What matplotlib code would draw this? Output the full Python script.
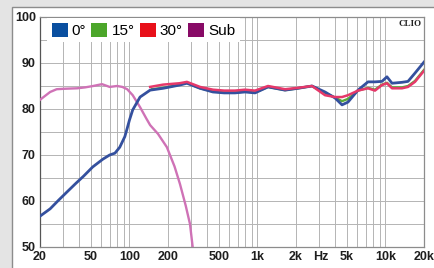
import numpy as np
import matplotlib
matplotlib.use('Agg')
from matplotlib import pyplot as plt
from matplotlib.patches import Patch, Rectangle

# frequenze (Hz) e livelli (dB)
f_sub = [20, 24, 27, 31, 39, 45, 52, 61, 70, 80, 88, 96, 106, 121, 135, 145, 155, 167,
         196, 225, 248, 275, 297, 313]
db_sub = [82, 83.7, 84.3, 84.4, 84.5, 84.7, 85.0, 85.4, 84.8, 85.0, 84.8, 84.3, 83.0,
          80.4, 78, 76.5, 75.6, 74.6, 71.7, 67.5, 63.7, 59, 55, 49.6]

f_0 = [20, 24, 28, 32.6, 38, 43.8, 51.6, 62, 70, 77, 84, 92, 96, 100, 106, 121, 145, 183,
       246, 281, 356, 449, 550, 667, 800, 957, 1209, 1641, 2074, 2667, 3371, 4034,
       4577, 5095, 6100, 7300, 8280, 9390, 10270, 11250, 13460, 15000, 17000, 20000]
db_0 = [56.7, 58.3, 60.2, 62, 63.8, 65.4, 67.4, 69.1, 70, 70.4, 71.7, 74.0, 75.8, 77.6,
        79.8, 82.6, 84.1, 84.5, 85.2, 85.6, 84.5, 83.7, 83.5, 83.5, 83.7, 83.5, 84.8,
        84.1, 84.5, 85.0, 83.7, 82.4, 80.9, 81.5, 84.1, 85.9, 85.9, 86.0, 87.0, 85.6,
        85.8, 86.0, 87.8, 90.2]

f_15 = [150, 183, 246, 281, 356, 449, 550, 667, 800, 957, 1209, 1641, 2074, 2667, 3371,
        4034, 4577, 5095, 6100, 7300, 8280, 9390, 10270, 11250, 13460, 15000, 17000, 20000]
db_15 = [84.3, 84.6, 85.3, 85.7, 84.5, 83.8, 83.6, 83.6, 83.8, 83.6, 84.8, 84.1, 84.5,
         85.0, 83.5, 82.5, 81.7, 82.2, 84.0, 84.6, 84.2, 85.3, 85.7, 84.7, 84.7, 85.0,
         86.1, 88.5]

f_30 = [145, 183, 246, 281, 356, 449, 550, 667, 800, 957, 1209, 1641, 2074, 2667, 3371,
        4034, 4577, 5095, 6100, 7300, 8280, 9390, 10270, 11250, 13460, 15000, 17000, 20000]
db_30 = [84.8, 85.3, 85.6, 85.9, 84.8, 84.2, 84.0, 84.0, 84.2, 84.0, 85.0, 84.3, 84.6,
         85.0, 83.0, 82.6, 82.6, 83.0, 84.0, 84.5, 84.0, 85.2, 85.6, 84.5, 84.5, 84.8,
         85.9, 88.3]

xtick_pos = [20, 50, 100, 200, 500, 1000, 2000, 3100, 5000, 10000, 20000]
xtick_lab = ['20', '50', '100', '200', '500', '1k', '2k', 'Hz', '5k', '10k', '20k']
ytick_pos = [50, 60, 70, 80, 90, 100]

fnt = ['Liberation Sans Narrow', 'Liberation Sans', 'DejaVu Sans']

fig = plt.figure(figsize=(4.35, 2.68), dpi=100)
fig.patch.set_facecolor('#e4e4e4')
panel = Rectangle((12 / 435, -0.1), 1.0, 1.1 - 7 / 268,
                  transform=fig.transFigure, facecolor='white',
                  edgecolor='#8c8c8c', lw=1.0, zorder=-10)
fig.patches.append(panel)

ax = fig.add_axes([40 / 435, 1 - 247 / 268, 384 / 435, 230 / 268])
ax.set_zorder(5)
ax.patch.set_alpha(0)
ax.set_xscale('log')
ax.set_xlim(20, 20000)
ax.set_ylim(50, 100)

# griglia
minor_x = []
for dec in [10, 100, 1000, 10000]:
    for m in range(1, 10):
        v = dec * m
        if 20 <= v <= 20000:
            minor_x.append(v)
for v in minor_x:
    ax.axvline(v, color='#b4b4b4', lw=0.7, zorder=1)
for v in np.arange(50, 101, 5):
    ax.axhline(v, color='#b4b4b4', lw=0.7, zorder=1)

ax.plot(f_sub, db_sub, color='#cf72b6', lw=1.7, zorder=3)
ax.plot(f_15, db_15, color='#5aa83a', lw=1.7, zorder=3)
ax.plot(f_0, db_0, color='#34509e', lw=2.0, zorder=4)
ax.plot(f_30, db_30, color='#e6386a', lw=1.8, zorder=4)

ax.set_xticks(xtick_pos)
ax.set_xticklabels(xtick_lab)
ax.xaxis.set_minor_locator(matplotlib.ticker.NullLocator())
ax.set_yticks(ytick_pos)
ax.tick_params(length=0, pad=3, labelsize=9)
for lab in ax.get_xticklabels() + ax.get_yticklabels():
    lab.set_family(fnt)
    lab.set_weight('bold')
    lab.set_color('#1e1e1e')

for s in ax.spines.values():
    s.set_color('#8c8c8c')
    s.set_linewidth(0.9)
ax.spines['left'].set_color('#555555')

handles = [Patch(facecolor='#0a4fa0', edgecolor='none'),
           Patch(facecolor='#4ca62a', edgecolor='none'),
           Patch(facecolor='#e8101a', edgecolor='none'),
           Patch(facecolor='#880a66', edgecolor='none')]
leg = ax.legend(handles, ['0°', '15°', '30°', 'Sub'], ncol=4, loc='upper left',
                bbox_to_anchor=(7 / 384, 1 - 1 / 230), frameon=True,
                facecolor='white', edgecolor='none', framealpha=1, fancybox=False,
                prop={'family': fnt, 'size': 11},
                handlelength=1.05, handleheight=1.05, handletextpad=0.26,
                columnspacing=0.35, borderaxespad=0, borderpad=0.3)
leg.set_zorder(6)

ax.text(0.995, 0.985, 'CLIO', transform=ax.transAxes, ha='right', va='top',
        family=['Liberation Serif', 'DejaVu Serif'], weight='bold', fontsize=6.5,
        color='#222222', zorder=6)

fig.savefig('out.png', dpi=100, facecolor=fig.get_facecolor())
